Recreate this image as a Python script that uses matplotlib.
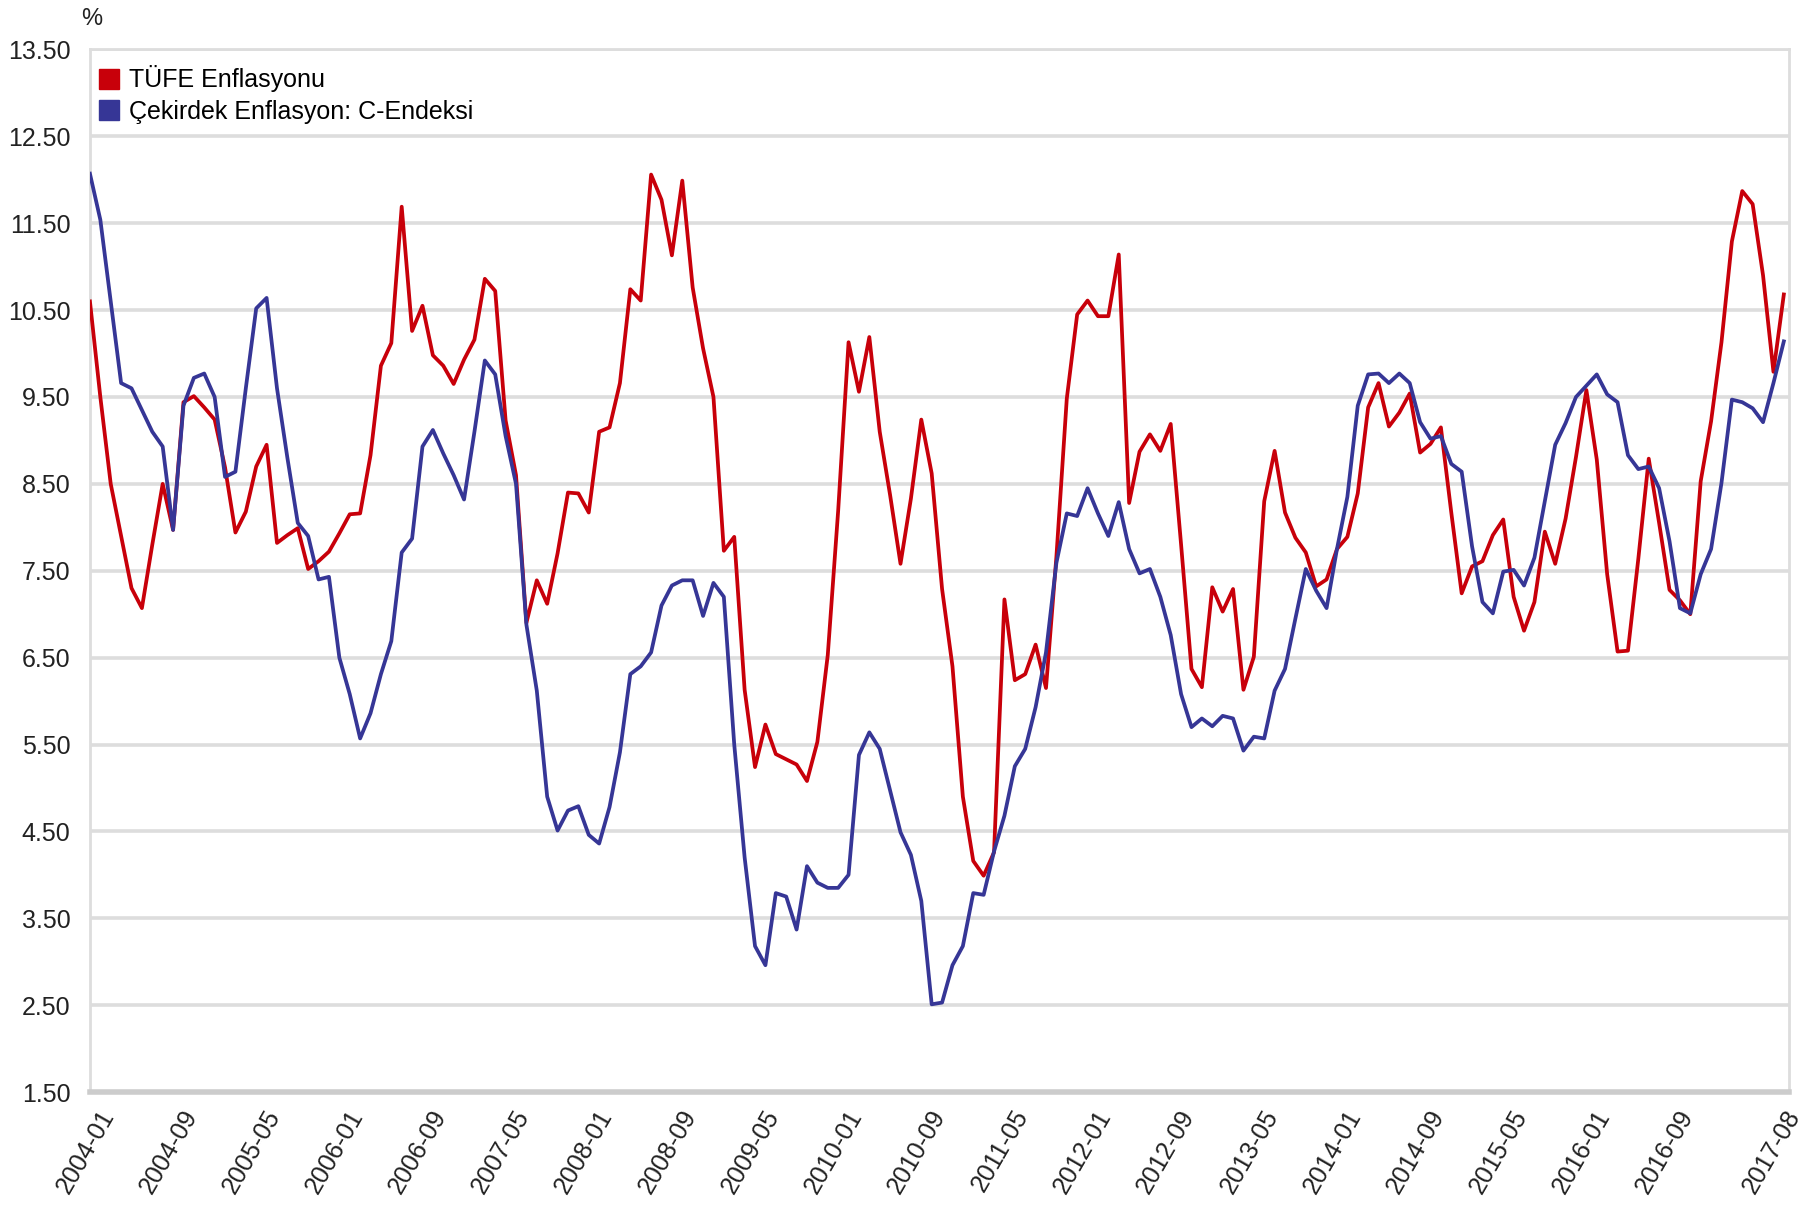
import numpy as np
import pandas as pd
import matplotlib
matplotlib.use("Agg")
import matplotlib.pyplot as plt
import matplotlib.transforms as mtransforms
from matplotlib.lines import Line2D

plt.rcParams['font.family'] = ['Liberation Sans', 'DejaVu Sans']

# Aylar: 2004-01 ... 2017-08
aylar = pd.period_range('2004-01', '2017-08', freq='M').strftime('%Y-%m').tolist()

# TÜFE yıllık enflasyon (%)
tufe = [
    10.60, 9.50, 8.50, 7.90, 7.30, 7.07, 7.80, 8.50, 7.97, 9.44, 9.51, 9.38,
    9.24, 8.69, 7.94, 8.18, 8.70, 8.95, 7.82, 7.91, 7.99, 7.52, 7.61, 7.72,
    7.93, 8.15, 8.16, 8.83, 9.86, 10.12, 11.69, 10.26, 10.55, 9.98, 9.86, 9.65,
    9.93, 10.16, 10.86, 10.72, 9.23, 8.60, 6.90, 7.39, 7.12, 7.70, 8.40, 8.39,
    8.17, 9.10, 9.15, 9.66, 10.74, 10.61, 12.06, 11.77, 11.13, 11.99, 10.76, 10.06,
    9.50, 7.73, 7.89, 6.13, 5.24, 5.73, 5.39, 5.33, 5.27, 5.08, 5.53, 6.53,
    8.19, 10.13, 9.56, 10.19, 9.10, 8.37, 7.58, 8.33, 9.24, 8.62, 7.29, 6.40,
    4.90, 4.16, 3.99, 4.26, 7.17, 6.24, 6.31, 6.65, 6.15, 7.66, 9.48, 10.45,
    10.61, 10.43, 10.43, 11.14, 8.28, 8.87, 9.07, 8.88, 9.19, 7.80, 6.37, 6.16,
    7.31, 7.03, 7.29, 6.13, 6.51, 8.30, 8.88, 8.17, 7.88, 7.71, 7.32, 7.40,
    7.75, 7.89, 8.39, 9.38, 9.66, 9.16, 9.32, 9.54, 8.86, 8.96, 9.15, 8.17,
    7.24, 7.55, 7.61, 7.91, 8.09, 7.20, 6.81, 7.14, 7.95, 7.58, 8.10, 8.81,
    9.58, 8.78, 7.46, 6.57, 6.58, 7.64, 8.79, 8.05, 7.28, 7.16, 7.00, 8.53,
    9.22, 10.13, 11.29, 11.87, 11.72, 10.90, 9.79, 10.68,
]

# Çekirdek enflasyon: C endeksi (%)
c_endeksi = [
    12.07, 11.54, 10.60, 9.66, 9.60, 9.35, 9.10, 8.93, 7.97, 9.40, 9.72, 9.77,
    9.50, 8.58, 8.64, 9.60, 10.52, 10.64, 9.60, 8.80, 8.05, 7.90, 7.40, 7.43,
    6.50, 6.08, 5.57, 5.86, 6.31, 6.69, 7.71, 7.87, 8.93, 9.12, 8.85, 8.60,
    8.32, 9.10, 9.92, 9.76, 9.05, 8.50, 6.88, 6.12, 4.90, 4.51, 4.74, 4.79,
    4.46, 4.36, 4.78, 5.41, 6.31, 6.40, 6.56, 7.10, 7.33, 7.39, 7.39, 6.98,
    7.36, 7.20, 5.50, 4.20, 3.18, 2.96, 3.79, 3.75, 3.37, 4.10, 3.91, 3.85,
    3.85, 4.00, 5.38, 5.64, 5.45, 4.97, 4.49, 4.23, 3.70, 2.51, 2.53, 2.96,
    3.18, 3.79, 3.77, 4.27, 4.68, 5.25, 5.45, 5.93, 6.56, 7.59, 8.16, 8.13,
    8.45, 8.16, 7.90, 8.29, 7.75, 7.47, 7.52, 7.20, 6.76, 6.08, 5.70, 5.80,
    5.71, 5.83, 5.80, 5.43, 5.59, 5.57, 6.12, 6.37, 6.95, 7.52, 7.27, 7.07,
    7.75, 8.35, 9.40, 9.76, 9.77, 9.66, 9.77, 9.66, 9.21, 9.02, 9.05, 8.73,
    8.64, 7.78, 7.14, 7.01, 7.49, 7.51, 7.33, 7.65, 8.30, 8.95, 9.20, 9.50,
    9.63, 9.76, 9.53, 9.44, 8.83, 8.67, 8.70, 8.45, 7.84, 7.07, 7.01, 7.46,
    7.75, 8.51, 9.47, 9.44, 9.37, 9.21, 9.66, 10.14,
]

x_etiketler = ['2004-01', '2004-09', '2005-05', '2006-01', '2006-09', '2007-05',
               '2008-01', '2008-09', '2009-05', '2010-01', '2010-09', '2011-05',
               '2012-01', '2012-09', '2013-05', '2014-01', '2014-09', '2015-05',
               '2016-01', '2016-09', '2017-08']
y_etiketler = np.arange(1.5, 13.51, 1.0)

kirmizi = '#c8000a'
mavi = '#363696'

fig = plt.figure(figsize=(18.06, 12.18), dpi=100)
ax = fig.add_axes([0.0498, 0.1034, 0.9408, 0.856])

x = np.arange(len(aylar))
ax.plot(x, tufe, color=kirmizi, lw=2.7, zorder=3)
ax.plot(x, c_endeksi, color=mavi, lw=2.7, zorder=3)

ax.set_xlim(0, len(aylar) - 1 + 0.5)
ax.set_ylim(1.5, 13.5)

# Y ekseni
ax.set_yticks(y_etiketler)
ax.set_yticklabels(['%.2f' % v for v in y_etiketler], fontsize=18, color='#222222')
ax.yaxis.grid(True, color='#dddddd', lw=2.6)
ax.set_axisbelow(True)
ax.tick_params(axis='y', length=0, pad=14)

# X ekseni
ax.set_xticks([aylar.index(e) for e in x_etiketler])
ax.set_xticklabels(x_etiketler, rotation=60, ha='right', rotation_mode='anchor',
                   fontsize=18, color='#222222')
ax.tick_params(axis='x', length=0, pad=10)
kaydir = mtransforms.ScaledTranslation(8 / 100, 0, fig.dpi_scale_trans)
for lbl in ax.get_xticklabels()[:-1]:
    lbl.set_transform(lbl.get_transform() + kaydir)

for s in ['left', 'right', 'top']:
    ax.spines[s].set_color('#dddddd')
    ax.spines[s].set_linewidth(2)
ax.spines['bottom'].set_color('#cccccc')
ax.spines['bottom'].set_linewidth(4)

fig.text(0.051, 0.984, '%', fontsize=17, color='#222222', ha='center', va='center')

handles = [Line2D([], [], marker='s', ls='none', color=kirmizi, markersize=15),
           Line2D([], [], marker='s', ls='none', color=mavi, markersize=15)]
ax.legend(handles, ['TÜFE Enflasyonu', 'Çekirdek Enflasyon: C-Endeksi'],
          loc='upper left', bbox_to_anchor=(0.0, 0.992), frameon=False,
          fontsize=18, handlelength=0.9, handletextpad=0.35, labelspacing=0.3,
          borderaxespad=0.0, borderpad=0.3)

plt.savefig('out.png', dpi=100, facecolor='white')
